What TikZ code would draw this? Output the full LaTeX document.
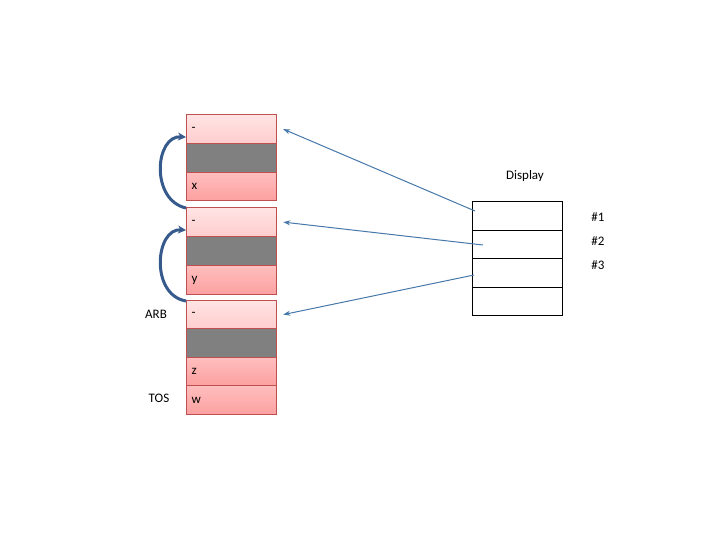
\documentclass[tikz,border=0pt]{standalone}
\usepackage{fontspec}
\setmainfont{Carlito}
\usetikzlibrary{arrows.meta}
\definecolor{bord}{RGB}{190,80,80}
\definecolor{lt1}{RGB}{255,228,228}
\definecolor{lt2}{RGB}{255,205,205}
\definecolor{dk1}{RGB}{255,190,190}
\definecolor{dk2}{RGB}{252,160,160}
\definecolor{arr}{RGB}{70,120,170}
\definecolor{carr}{RGB}{55,90,140}
\begin{document}
\begin{tikzpicture}[x=1pt,y=-1pt,font=\fontsize{13}{15}\selectfont,
 cell/.style={draw=bord,line width=1.2pt,minimum width=90pt,anchor=north west,inner sep=0pt,text width=80pt,align=left},
 light/.style={cell,top color=lt1,bottom color=lt2},
 dark/.style={cell,top color=dk1,bottom color=dk2},
 gray/.style={cell,fill=gray},
 disp/.style={draw,line width=1pt,minimum width=90pt,anchor=north west,inner sep=0pt},
 ptr/.style={draw=arr,line width=1pt,-{Stealth[length=7pt,width=5pt]}},
 link/.style={draw=carr,line width=3pt,-{Stealth[length=8pt,width=8pt]}}]
\useasboundingbox (0,0) rectangle (720,540);
\node[light,minimum height=29pt] (a1) at (186,114) {-};
\node[gray,minimum height=29pt] (a2) at (186,143) {};
\node[dark,minimum height=28pt] (a3) at (186,172) {x};
\node[light,minimum height=29pt] (b1) at (186,207) {-};
\node[gray,minimum height=29pt] (b2) at (186,236) {};
\node[dark,minimum height=29pt] (b3) at (186,265) {y};
\node[light,minimum height=28pt] (c1) at (186,300) {-};
\node[gray,minimum height=29pt] (c2) at (186,328) {};
\node[dark,minimum height=28pt] (c3) at (186,357) {z};
\node[dark,minimum height=29pt] (c4) at (186,385) {w};
\node (arb) at (156,314) {ARB};
\node (tos) at (159,398) {TOS};
\node[disp,minimum height=29pt] (d1) at (472,201) {};
\node[disp,minimum height=28pt] (d2) at (472,230) {};
\node[disp,minimum height=29pt] (d3) at (472,258) {};
\node[disp,minimum height=28pt] (d4) at (472,287) {};
\node (dl) at (525,176) {Display};
\node (n1) at (598,217) {\#1};
\node (n2) at (598,241) {\#2};
\node (n3) at (598,265) {\#3};
\coordinate (s1) at (475,211);
\coordinate (s2) at (483,245);
\coordinate (s3) at (474,275);
\draw[ptr] (s1) -- ([xshift=6pt]a1.east);
\draw[ptr] (s2) -- ([xshift=6pt]b1.east);
\draw[ptr] (s3) -- ([xshift=6pt]c1.east);
\draw[link] ([yshift=-1pt]c1.north west) .. controls (150,295) and (155,228) .. ([yshift=-8pt]b1.west);
\draw[link] ([yshift=-1pt]b1.north west) .. controls (150,200) and (155,135) .. ([yshift=-8pt]a1.west);
\end{tikzpicture}
\end{document}
